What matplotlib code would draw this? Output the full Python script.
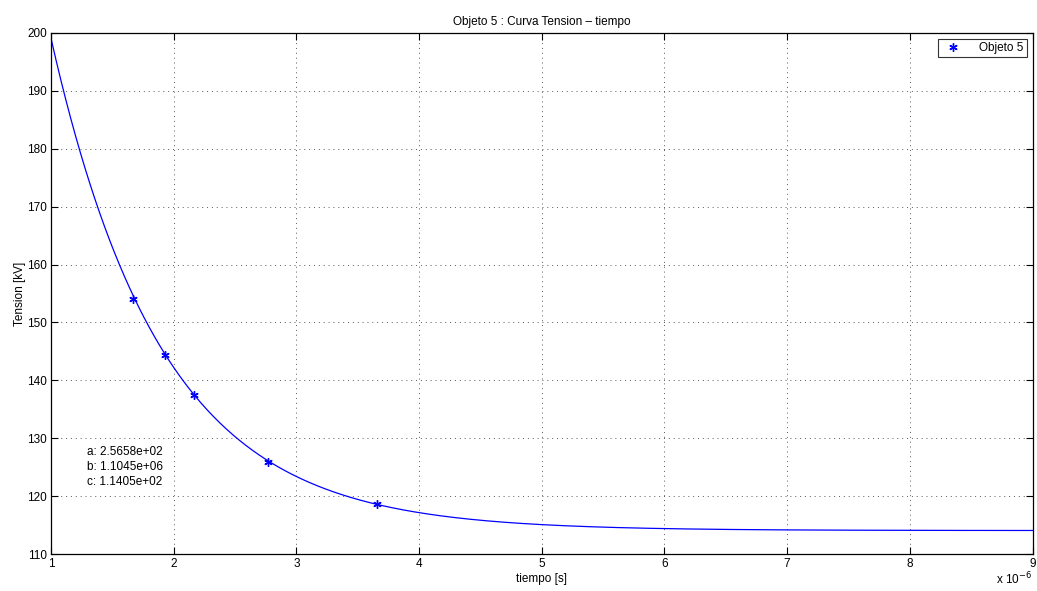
import numpy as np
import matplotlib
matplotlib.use("Agg")
import matplotlib.pyplot as plt
from matplotlib.ticker import FuncFormatter

plt.rcParams['font.family'] = ['Liberation Sans', 'DejaVu Sans']

# measured points (time in s, tension in kV)
t_points = [1.669e-6, 1.926e-6, 2.168e-6, 2.768e-6, 3.660e-6]
v_points = [154.1, 144.4, 137.5, 125.9, 118.7]

# fit parameters shown on the chart: V = a*exp(-b*t) + c
a_fit = 2.5658e+02
b_fit = 1.1045e+06
c_fit = 1.1405e+02

x_ticks = [1, 2, 3, 4, 5, 6, 7, 8, 9]
y_ticks = [110, 120, 130, 140, 150, 160, 170, 180, 190, 200]

t_fit = np.linspace(1e-6, 9e-6, 600)
v_fit = a_fit * np.exp(-b_fit * t_fit) + c_fit

fs = 8.5

fig = plt.figure(figsize=(10.37, 5.91), dpi=100)
ax = fig.add_axes([0.0492, 0.0626, 0.9465, 0.8816])

ax.plot(t_fit, v_fit, color='blue', linewidth=0.9)
ax.plot(t_points, v_points, linestyle='none', marker=(6, 2, 0), markersize=6,
        markeredgewidth=1.0, color='blue', label='Objeto 5')

ax.set_xlim(1e-6, 9e-6)
ax.set_ylim(110, 200)
ax.set_xticks([v * 1e-6 for v in x_ticks])
ax.set_yticks(y_ticks)
ax.xaxis.set_major_formatter(FuncFormatter(lambda v, p: f"{v * 1e6:g}"))

ax.tick_params(direction='in', top=True, right=True, length=5, width=0.8,
               labelsize=fs, pad=3)
for s in ax.spines.values():
    s.set_linewidth(0.9)
ax.grid(True, linestyle=(0, (1, 4)), color='0.35', linewidth=0.7)

ax.set_title('Objeto 5 : Curva Tension \u2013 tiempo', fontsize=fs, pad=6)
ax.set_xlabel('tiempo [s]', fontsize=fs, labelpad=2)
ax.set_ylabel('Tension [kV]', fontsize=fs, labelpad=1)

ax.text(0.999, -0.033, r'x 10$^{-6}$', transform=ax.transAxes, ha='right',
        va='top', fontsize=fs)

ax.text(1.29e-6, 128.6, f"a: {a_fit:.4e}\nb: {b_fit:.4e}\nc: {c_fit:.4e}",
        fontsize=fs, va='top', ha='left', linespacing=1.33)

leg = ax.legend(loc='upper right', fontsize=fs, frameon=True, fancybox=False,
                edgecolor='black', borderpad=0.25, handletextpad=1.2,
                bbox_to_anchor=(0.9975, 0.995), borderaxespad=0.3)
leg.get_frame().set_linewidth(0.8)

fig.savefig('out.png', dpi=100)
